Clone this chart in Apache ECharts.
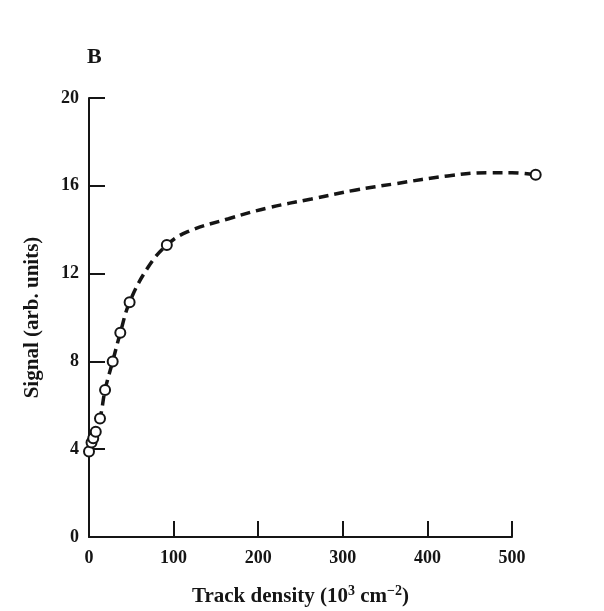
<!DOCTYPE html>
<html><head><meta charset="utf-8">
<script src="https://cdn.jsdelivr.net/npm/echarts@6/dist/echarts.min.js"></script>
<style>html,body{margin:0;padding:0;background:#fff}#c{width:604px;height:611px}</style>
</head><body><div id="c"></div>
<script>
// Measured data points (track density 10^3 cm^-2, signal arb. units)
const pointX = [0, 3, 5, 8, 13, 19, 28, 37, 48, 92, 528];
const pointY = [3.9, 4.3, 4.5, 4.8, 5.4, 6.7, 8.0, 9.3, 10.7, 13.3, 16.5];
// Dashed fitted curve
const curveX = [0, 5, 13, 19, 28, 37, 48, 70, 92, 116, 165, 212, 263, 314, 363, 424, 472, 500, 528];
const curveY = [3.9, 4.5, 5.4, 6.7, 8.0, 9.3, 10.7, 12.3, 13.3, 13.9, 14.5, 15.0, 15.4, 15.8, 16.1, 16.45, 16.6, 16.6, 16.5];
const xTicks = [0, 100, 200, 300, 400, 500];
const yTicks = [0, 4, 8, 12, 16, 20];
const xExtent = 600; // plotting range of the hidden data axis (same px scale as the visible axis)

const font = '"Liberation Serif", "DejaVu Serif", serif';
const ink = '#151515';
const L = 89, W = 423, T = 98, B = 74;
const chart = echarts.init(document.getElementById('c'));
chart.setOption({
  backgroundColor: '#fff',
  animation: false,
  title: { text: 'B', left: 82, top: 41, textStyle: { fontFamily: font, fontSize: 22, fontWeight: 'bold', color: ink } },
  grid: [
    { left: L, width: W, top: T, bottom: B, containLabel: false, outerBoundsMode: 'none' },
    { left: L, width: W * xExtent / xTicks[xTicks.length - 1], top: T, bottom: B, containLabel: false, outerBoundsMode: 'none' }
  ],
  xAxis: [{
    type: 'value', gridIndex: 0, min: xTicks[0], max: xTicks[xTicks.length - 1], interval: 100,
    axisLine: { lineStyle: { color: ink, width: 2 } },
    axisTick: { inside: true, length: 16, lineStyle: { color: ink, width: 2 } },
    splitLine: { show: false },
    axisLabel: { margin: 12, fontFamily: font, fontSize: 18, fontWeight: 'bold', color: ink },
    name: '{a|Track density (10}{s|3}{a| cm}{s|−2}{a|)}',
    nameLocation: 'middle', nameGap: 47,
    nameTextStyle: {
      rich: {
        a: { fontFamily: font, fontSize: 21, fontWeight: 'bold', color: ink, lineHeight: 26 },
        s: { fontFamily: font, fontSize: 14, fontWeight: 'bold', color: ink, lineHeight: 26, padding: [0, 0, 12, 0] }
      }
    }
  }, {
    type: 'value', gridIndex: 1, min: 0, max: xExtent, show: false
  }],
  yAxis: [{
    type: 'value', gridIndex: 0, min: yTicks[0], max: yTicks[yTicks.length - 1], interval: 4,
    axisLine: { lineStyle: { color: ink, width: 2 } },
    axisTick: { inside: true, length: 16, lineStyle: { color: ink, width: 2 } },
    splitLine: { show: false },
    axisLabel: { margin: 10, fontFamily: font, fontSize: 18, fontWeight: 'bold', color: ink },
    name: 'Signal (arb. units)', nameLocation: 'middle', nameGap: 46, nameRotate: 90,
    nameTextStyle: { fontFamily: font, fontSize: 21, fontWeight: 'bold', color: ink }
  }, {
    type: 'value', gridIndex: 1, min: yTicks[0], max: yTicks[yTicks.length - 1], show: false
  }],
  series: [
    {
      type: 'line', xAxisIndex: 1, yAxisIndex: 1,
      data: curveX.map((x, i) => [x, curveY[i]]), smooth: 0.4, showSymbol: false, clip: false,
      lineStyle: { color: ink, width: 3.5, type: [10, 6] }, z: 2
    },
    {
      type: 'scatter', xAxisIndex: 1, yAxisIndex: 1,
      data: pointX.map((x, i) => [x, pointY[i]]), symbol: 'circle', symbolSize: 10, clip: false,
      itemStyle: { color: '#fff', borderColor: ink, borderWidth: 2, opacity: 1 }, z: 3
    }
  ]
});
</script></body></html>
